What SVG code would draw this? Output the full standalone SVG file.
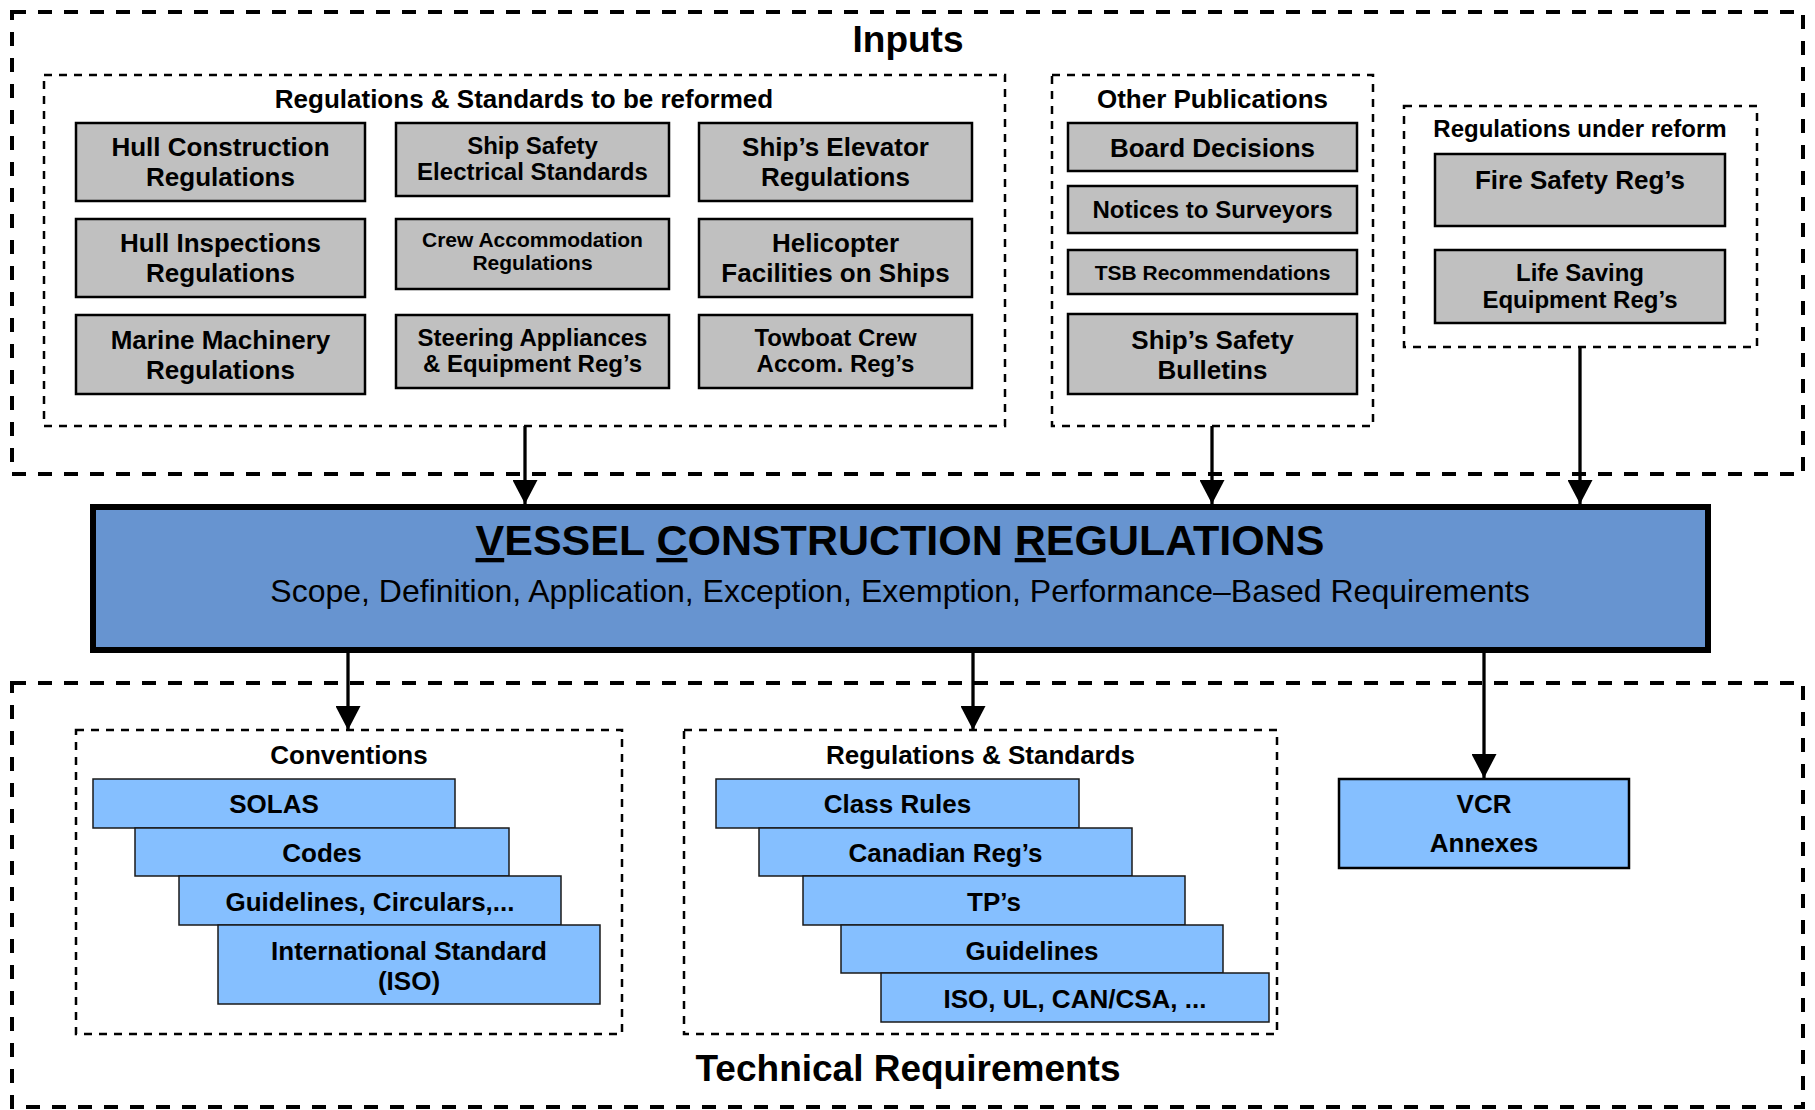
<svg xmlns="http://www.w3.org/2000/svg" width="1815" height="1110" viewBox="0 0 1815 1110">
<defs>
<style>
.outer{fill:none;stroke:#000;stroke-width:4;stroke-dasharray:14 12}
.inner{fill:none;stroke:#000;stroke-width:2.5;stroke-dasharray:8 7}
.gray{fill:#c0c0c0;stroke:#000;stroke-width:2.5}
.lb{fill:#85bfff;stroke:#1a1a1a;stroke-width:1.5}
.lbk{fill:#85bfff;stroke:#000;stroke-width:2.5}
.vcr{fill:#6794d0;stroke:#000;stroke-width:6}
.conn{stroke:#000;stroke-width:3.3;fill:none;marker-end:url(#ah)}
text{font-family:"Liberation Sans",Arial,Helvetica,sans-serif;font-weight:bold;text-anchor:middle;fill:#000}
.t37{font-size:37px}
.t26{font-size:26px}
.t24{font-size:24px}
.t21{font-size:21px}
.t42{font-size:43px}
.sub{font-size:32px;font-weight:normal}
.u{text-decoration:underline}
</style>
<marker id="ah" viewBox="0 0 24 25" refX="24" refY="12.5" markerWidth="24" markerHeight="25" markerUnits="userSpaceOnUse" orient="auto">
<path d="M0,0 L24,12.5 L0,25 z" fill="#000"/>
</marker>
</defs>
<rect width="1815" height="1110" fill="#fff"/>

<g id="inputs">
<rect class="outer" x="12" y="12" width="1791" height="462"/>
<text class="t37" x="908" y="52">Inputs</text>
</g>

<g id="regs-reformed">
<rect class="inner" x="44" y="75" width="961" height="351"/>
<text class="t26" x="524" y="108">Regulations &amp; Standards to be reformed</text>
</g>
<g id="hull-construction">
<rect class="gray" x="76" y="123" width="289" height="78"/>
<text class="t26" x="220.5" y="156">Hull Construction<tspan x="220.5" dy="30">Regulations</tspan></text>
</g>
<g id="hull-inspections">
<rect class="gray" x="76" y="219" width="289" height="78"/>
<text class="t26" x="220.5" y="252">Hull Inspections<tspan x="220.5" dy="30">Regulations</tspan></text>
</g>
<g id="marine-machinery">
<rect class="gray" x="76" y="315" width="289" height="79"/>
<text class="t26" x="220.5" y="349">Marine Machinery<tspan x="220.5" dy="30">Regulations</tspan></text>
</g>
<g id="ship-safety-electrical">
<rect class="gray" x="396" y="123" width="273" height="73"/>
<text class="t24" x="532.5" y="154">Ship Safety<tspan x="532.5" dy="26">Electrical Standards</tspan></text>
</g>
<g id="crew-accommodation">
<rect class="gray" x="396" y="219" width="273" height="70"/>
<text class="t21" x="532.5" y="247">Crew Accommodation<tspan x="532.5" dy="23">Regulations</tspan></text>
</g>
<g id="steering-appliances">
<rect class="gray" x="396" y="315" width="273" height="73"/>
<text class="t24" x="532.5" y="346">Steering Appliances<tspan x="532.5" dy="26">&amp; Equipment Reg’s</tspan></text>
</g>
<g id="ships-elevator">
<rect class="gray" x="699" y="123" width="273" height="78"/>
<text class="t26" x="835.5" y="156">Ship’s Elevator<tspan x="835.5" dy="30">Regulations</tspan></text>
</g>
<g id="helicopter">
<rect class="gray" x="699" y="219" width="273" height="78"/>
<text class="t26" x="835.5" y="252">Helicopter<tspan x="835.5" dy="30">Facilities on Ships</tspan></text>
</g>
<g id="towboat">
<rect class="gray" x="699" y="315" width="273" height="73"/>
<text class="t24" x="835.5" y="346">Towboat Crew<tspan x="835.5" dy="26">Accom. Reg’s</tspan></text>
</g>

<g id="other-publications">
<rect class="inner" x="1052" y="75" width="321" height="351"/>
<text class="t26" x="1212.5" y="108">Other Publications</text>
</g>
<g id="board-decisions">
<rect class="gray" x="1068" y="123" width="289" height="48"/>
<text class="t26" x="1212.5" y="157">Board Decisions</text>
</g>
<g id="notices">
<rect class="gray" x="1068" y="186" width="289" height="47"/>
<text class="t24" x="1212.5" y="218">Notices to Surveyors</text>
</g>
<g id="tsb">
<rect class="gray" x="1068" y="250" width="289" height="44"/>
<text class="t21" x="1212.5" y="280">TSB Recommendations</text>
</g>
<g id="ships-safety-bulletins">
<rect class="gray" x="1068" y="314" width="289" height="80"/>
<text class="t26" x="1212.5" y="349">Ship’s Safety<tspan x="1212.5" dy="30">Bulletins</tspan></text>
</g>

<g id="regs-under-reform">
<rect class="inner" x="1404" y="106" width="353" height="241"/>
<text class="t24" x="1580" y="137">Regulations under reform</text>
</g>
<g id="fire-safety">
<rect class="gray" x="1435" y="154" width="290" height="72"/>
<text class="t26" x="1580" y="189">Fire Safety Reg’s</text>
</g>
<g id="life-saving">
<rect class="gray" x="1435" y="250" width="290" height="73"/>
<text class="t24" x="1580" y="281">Life Saving<tspan x="1580" dy="27">Equipment Reg’s</tspan></text>
</g>

<g id="vcr">
<rect class="vcr" x="93" y="507" width="1615" height="143"/>
<text class="t42" x="900" y="555"><tspan class="u">V</tspan>ESSEL <tspan class="u">C</tspan>ONSTRUCTION <tspan class="u">R</tspan>EGULATIONS</text>
<text class="sub" x="900" y="602">Scope, Definition, Application, Exception, Exemption, Performance–Based Requirements</text>
</g>

<g id="technical-requirements">
<rect class="outer" x="12" y="683" width="1791" height="424"/>
<text class="t37" x="908" y="1081">Technical Requirements</text>
</g>

<g id="conventions">
<rect class="inner" x="76" y="730" width="546" height="304"/>
<text class="t26" x="349" y="764">Conventions</text>
</g>
<g id="solas">
<rect class="lb" x="93" y="779" width="362" height="49"/>
<text class="t26" x="274" y="813">SOLAS</text>
</g>
<g id="codes">
<rect class="lb" x="135" y="828" width="374" height="48"/>
<text class="t26" x="322" y="862">Codes</text>
</g>
<g id="guidelines-circulars">
<rect class="lb" x="179" y="876" width="382" height="49"/>
<text class="t26" x="370" y="911">Guidelines, Circulars,...</text>
</g>
<g id="iso-standard">
<rect class="lb" x="218" y="925" width="382" height="79"/>
<text class="t26" x="409" y="960">International Standard<tspan x="409" dy="30">(ISO)</tspan></text>
</g>

<g id="regs-standards">
<rect class="inner" x="684" y="730" width="593" height="304"/>
<text class="t26" x="980.5" y="764">Regulations &amp; Standards</text>
</g>
<g id="class-rules">
<rect class="lb" x="716" y="779" width="363" height="49"/>
<text class="t26" x="897.5" y="813">Class Rules</text>
</g>
<g id="canadian-regs">
<rect class="lb" x="759" y="828" width="373" height="48"/>
<text class="t26" x="945.5" y="862">Canadian Reg’s</text>
</g>
<g id="tps">
<rect class="lb" x="803" y="876" width="382" height="49"/>
<text class="t26" x="994" y="911">TP’s</text>
</g>
<g id="guidelines">
<rect class="lb" x="841" y="925" width="382" height="48"/>
<text class="t26" x="1032" y="960">Guidelines</text>
</g>
<g id="iso-ul-csa">
<rect class="lb" x="881" y="973" width="388" height="49"/>
<text class="t26" x="1075" y="1008">ISO, UL, CAN/CSA, ...</text>
</g>

<g id="vcr-annexes">
<rect class="lbk" x="1339" y="779" width="290" height="89"/>
<text class="t26" x="1484" y="813">VCR<tspan x="1484" dy="39">Annexes</tspan></text>
</g>

<g id="connectors">
<line class="conn" x1="525" y1="426" x2="525" y2="504"/>
<line class="conn" x1="1212" y1="426" x2="1212" y2="504"/>
<line class="conn" x1="1580" y1="347" x2="1580" y2="504"/>
<line class="conn" x1="348" y1="653" x2="348" y2="730"/>
<line class="conn" x1="973" y1="653" x2="973" y2="730"/>
<line class="conn" x1="1484" y1="653" x2="1484" y2="778"/>
</g>
</svg>
